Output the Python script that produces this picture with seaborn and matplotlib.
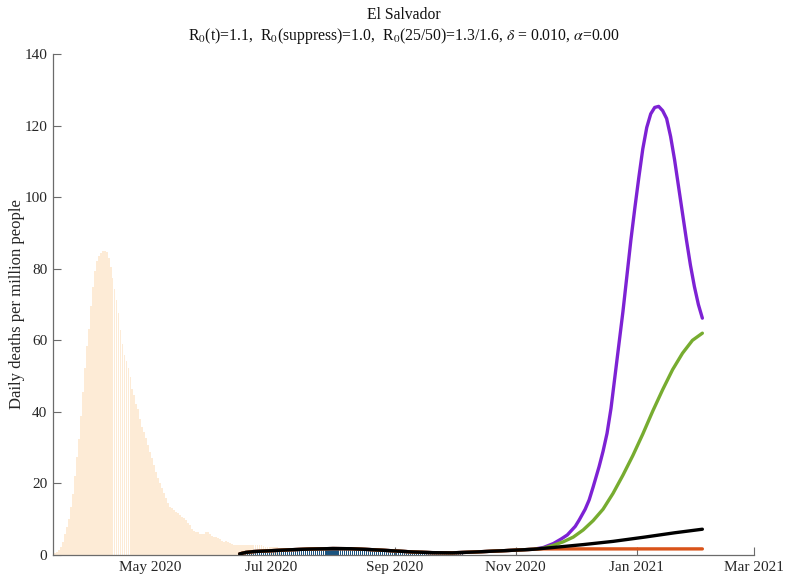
import numpy as np
import pandas as pd
import seaborn as sns
import matplotlib.pyplot as plt
import matplotlib.dates as mdates

# ---------------------------
# data
# ---------------------------
# observed daily deaths (per million), one value per day from 2020-03-14
obs_start = "2020-03-14"
obs_vals = [
    0.5, 0.9, 1.4, 2.3, 3.7, 6.0, 7.9, 10.0, 13.5, 17.0,
    22.0, 27.4, 32.4, 38.8, 45.6, 52.3, 58.3, 63.3, 69.5, 74.9,
    79.5, 82.1, 83.7, 84.4, 84.9, 84.9, 84.8, 83.0, 80.5, 77.5,
    74.4, 71.2, 67.6, 63.0, 58.9, 55.8, 54.2, 52.4, 49.8, 46.5,
    44.7, 42.3, 40.7, 38.1, 35.8, 34.4, 32.8, 30.7, 28.8, 27.0,
    25.1, 23.3, 21.4, 20.0, 18.6, 17.2, 15.8, 14.4, 13.5, 13.0,
    12.6, 12.1, 11.6, 11.2, 10.7, 10.2, 9.8, 9.0, 8.4, 7.2,
    6.8, 6.5, 6.3, 6.0, 5.9, 6.0, 6.5, 6.4, 5.9, 5.3,
    5.1, 4.9, 4.7, 4.4, 3.9, 3.7, 3.9, 3.7, 3.4, 3.1,
    2.9, 2.9, 2.9, 2.8, 2.8, 2.9, 2.9, 2.8, 2.8, 2.8,
    2.9, 2.8, 2.8, 2.7, 2.7, 2.4, 2.3, 2.3, 2.2, 2.3,
    2.3, 2.2, 2.1, 2.0, 1.9,
]

# fitting window (blue bars), one value per day from 2020-06-15
fit_start = "2020-06-15"
fit_vals = [
    0.6, 0.8, 0.9, 1.0, 1.0, 1.0, 1.1, 1.0, 1.1, 1.1,
    1.2, 1.1, 1.2, 1.2, 1.2, 1.3, 1.2, 1.3, 1.3, 1.3,
    1.4, 1.3, 1.4, 1.4, 1.4, 1.5, 1.4, 1.5, 1.5, 1.5,
    1.5, 1.6, 1.5, 1.6, 1.6, 1.6, 1.7, 1.6, 1.7, 1.7,
    1.7, 1.7, 1.7, 1.8, 1.7, 1.8, 1.8, 1.8, 1.8, 1.8,
    1.8, 1.7, 1.8, 1.7, 1.7, 1.7, 1.6, 1.6, 1.6, 1.5,
    1.5, 1.5, 1.4, 1.4, 1.4, 1.3, 1.3, 1.3, 1.2, 1.2,
    1.2, 1.1, 1.1, 1.0, 1.0, 1.0, 0.9, 0.9, 0.9, 0.8,
    0.8, 0.8, 0.8, 0.7, 0.7, 0.7, 0.7, 0.6, 0.6, 0.6,
    0.6, 0.6, 0.6, 0.6, 0.6, 0.6, 0.6, 0.6, 0.7, 0.6,
    0.7, 0.7, 0.7, 0.8, 0.7, 0.8, 0.8, 0.7, 0.8, 0.8,
    0.8, 0.9, 0.8,
]

# model curves: shared fitted part, then one branch per scenario
common_dates = ["2020-06-15", "2020-06-18", "2020-06-22", "2020-07-01",
                "2020-07-10", "2020-07-20", "2020-08-01", "2020-08-10",
                "2020-08-20", "2020-08-30", "2020-09-10", "2020-09-20",
                "2020-09-30", "2020-10-10", "2020-10-20", "2020-10-30",
                "2020-11-10"]
common_vals = [0.3, 0.7, 0.95, 1.2, 1.45, 1.65, 1.8, 1.75, 1.5, 1.2,
               0.85, 0.65, 0.6, 0.8, 1.05, 1.3, 1.6]

black_dates = ["2020-11-20", "2020-12-05", "2020-12-20", "2021-01-05",
               "2021-01-20", "2021-02-03"]
black_vals = [2.1, 2.9, 3.8, 5.0, 6.2, 7.2]

orange_dates = ["2020-11-15", "2020-12-13", "2021-01-16", "2021-02-03"]
orange_vals = [1.7, 1.7, 1.7, 1.7]

green_dates = ["2020-11-15", "2020-11-20", "2020-11-25", "2020-11-30", "2020-12-05",
               "2020-12-10", "2020-12-15", "2020-12-20", "2020-12-25", "2020-12-30",
               "2021-01-04", "2021-01-09", "2021-01-14", "2021-01-19", "2021-01-24",
               "2021-01-29", "2021-02-03"]
green_vals = [1.9, 2.7, 3.7, 5.0, 7.0, 9.6, 12.8, 17.2, 22.3, 27.8,
              33.8, 40.2, 46.2, 51.8, 56.4, 60.0, 62.0]

purple_dates = ["2020-11-15", "2020-11-20", "2020-11-24", "2020-11-27", "2020-12-01",
                "2020-12-03", "2020-12-06", "2020-12-08", "2020-12-10", "2020-12-13",
                "2020-12-15", "2020-12-17", "2020-12-19", "2020-12-21", "2020-12-23",
                "2020-12-25", "2020-12-27", "2020-12-29", "2020-12-31", "2021-01-02",
                "2021-01-04", "2021-01-06", "2021-01-08", "2021-01-10", "2021-01-12",
                "2021-01-14", "2021-01-16", "2021-01-18", "2021-01-20", "2021-01-22",
                "2021-01-24", "2021-01-26", "2021-01-28", "2021-01-30", "2021-02-01",
                "2021-02-03"]
purple_vals = [2.1, 3.2, 4.5, 5.6, 8.0, 9.8, 12.8, 15.4, 19.0, 24.7,
               29.0, 34.0, 41.0, 50.0, 59.0, 68.0, 78.0, 88.0, 97.0, 105.5,
               113.5, 119.5, 123.3, 125.1, 125.4, 124.2, 122.0, 117.0, 110.5, 103.0,
               95.5, 88.0, 81.0, 75.0, 70.0, 66.2]

title_lines = ["El Salvador",
               r"R$_0$(t)=1.1,  R$_0$(suppress)=1.0,  R$_0$(25/50)=1.3/1.6, "
               r"$\delta$ = 0.010, $\alpha$=0.00"]


def branch(dates, vals):
    """공통 구간 + 시나리오 구간을 이어 붙인 DataFrame"""
    d = pd.to_datetime(common_dates + dates)
    return pd.DataFrame({"date": d, "value": common_vals + vals})


def main():
    sns.set_theme(style="ticks")
    plt.rcParams["font.family"] = ["Liberation Serif", "DejaVu Serif"]
    plt.rcParams["mathtext.fontset"] = "stix"

    fig = plt.figure(figsize=(7.85, 5.76), dpi=100)
    ax = fig.add_axes([0.0675, 0.0365, 0.893, 0.8695])

    obs_dates = pd.date_range(obs_start, periods=len(obs_vals), freq="D")
    fit_d = pd.date_range(fit_start, periods=len(fit_vals), freq="D")
    ax.bar(obs_dates, obs_vals, width=0.94, color="#fdebd6", linewidth=0, zorder=1)
    ax.bar(fit_d, fit_vals, width=0.55, color="#1b5480", linewidth=0, zorder=1.2)

    lw = 2.4
    sns.lineplot(data=branch(purple_dates, purple_vals), x="date", y="value",
                 color="#7d22d4", lw=lw, ax=ax, zorder=3)
    sns.lineplot(data=branch(green_dates, green_vals), x="date", y="value",
                 color="#77ac30", lw=lw, ax=ax, zorder=3)
    sns.lineplot(data=branch(orange_dates, orange_vals), x="date", y="value",
                 color="#d95319", lw=lw, ax=ax, zorder=3)
    sns.lineplot(data=branch(black_dates, black_vals), x="date", y="value",
                 color="black", lw=lw, ax=ax, zorder=3.5)

    ax.set_xlim(pd.Timestamp("2020-03-13"), pd.Timestamp("2021-03-01"))
    ax.set_ylim(0, 140)
    ax.set_yticks(np.arange(0, 141, 20))
    ax.xaxis.set_major_locator(mdates.MonthLocator(bymonth=[1, 3, 5, 7, 9, 11]))
    ax.xaxis.set_major_formatter(mdates.DateFormatter("%b %Y"))

    sns.despine(ax=ax)
    for s in ["left", "bottom"]:
        ax.spines[s].set_color("#6b6b6b")
        ax.spines[s].set_linewidth(0.9)
    ax.tick_params(direction="in", length=5.5, width=0.8, color="#6b6b6b",
                   labelsize=11, labelcolor="#262626", pad=4)
    ax.set_xlabel("")
    ax.set_ylabel("Daily deaths per million people", fontsize=12, color="#262626")
    ax.yaxis.set_label_coords(-0.04, 0.5)
    ax.set_title("\n".join(title_lines), fontsize=11.3, color="#111111", pad=10,
                 linespacing=1.25)

    fig.savefig("out.png", dpi=100)
    plt.close(fig)


if __name__ == "__main__":
    main()
